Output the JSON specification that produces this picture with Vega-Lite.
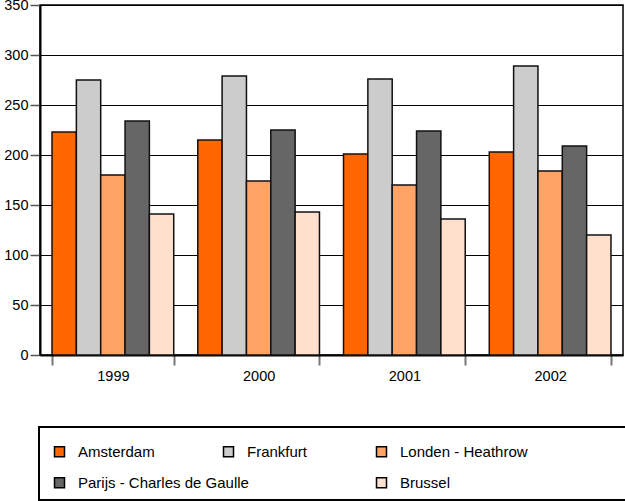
{
  "$schema": "https://vega.github.io/schema/vega-lite/v6.json",
  "width": 583,
  "height": 350,
  "autosize": {"type": "none"},
  "padding": {"left": 40, "top": 5, "right": 2, "bottom": 146},
  "background": "white",
  "config": {
    "font": "Liberation Sans",
    "view": {"stroke": "#000", "strokeWidth": 1.5},
    "axis": {"labelFont": "Liberation Sans", "labelFontSize": 14.5, "labelColor": "#000"},
    "legend": {
      "symbolType": "square",
      "symbolSize": 100,
      "symbolStrokeColor": "#000",
      "symbolStrokeWidth": 1.5,
      "labelFont": "Liberation Sans",
      "labelFontSize": 15,
      "labelColor": "#000",
      "labelOffset": 11,
      "labelLimit": 400,
      "gridAlign": "each",
      "direction": "horizontal"
    }
  },
  "data": {
    "values": [
      {"year": "1999", "airport": "Amsterdam", "value": 223},
      {"year": "1999", "airport": "Frankfurt", "value": 275},
      {"year": "1999", "airport": "Londen - Heathrow", "value": 180},
      {"year": "1999", "airport": "Parijs - Charles de Gaulle", "value": 234},
      {"year": "1999", "airport": "Brussel", "value": 141},
      {"year": "2000", "airport": "Amsterdam", "value": 215},
      {"year": "2000", "airport": "Frankfurt", "value": 279},
      {"year": "2000", "airport": "Londen - Heathrow", "value": 174},
      {"year": "2000", "airport": "Parijs - Charles de Gaulle", "value": 225},
      {"year": "2000", "airport": "Brussel", "value": 143},
      {"year": "2001", "airport": "Amsterdam", "value": 201},
      {"year": "2001", "airport": "Frankfurt", "value": 276},
      {"year": "2001", "airport": "Londen - Heathrow", "value": 170},
      {"year": "2001", "airport": "Parijs - Charles de Gaulle", "value": 224},
      {"year": "2001", "airport": "Brussel", "value": 136},
      {"year": "2002", "airport": "Amsterdam", "value": 203},
      {"year": "2002", "airport": "Frankfurt", "value": 289},
      {"year": "2002", "airport": "Londen - Heathrow", "value": 184},
      {"year": "2002", "airport": "Parijs - Charles de Gaulle", "value": 209},
      {"year": "2002", "airport": "Brussel", "value": 120}
    ]
  },
  "encoding": {
    "x": {
      "field": "year",
      "type": "nominal",
      "scale": {"paddingInner": 0.165, "paddingOuter": 0.0825},
      "axis": {
        "title": null,
        "labelAngle": 0,
        "domainColor": "#000",
        "domainWidth": 2,
        "tickBand": "extent",
        "tickColor": "#777",
        "tickWidth": 2,
        "tickSize": 10,
        "labelPadding": 4
      }
    },
    "xOffset": {
      "field": "airport",
      "type": "nominal",
      "scale": {
        "domain": ["Amsterdam", "Frankfurt", "Londen - Heathrow", "Parijs - Charles de Gaulle", "Brussel"],
        "paddingInner": 0,
        "paddingOuter": 0
      }
    },
    "y": {
      "field": "value",
      "type": "quantitative",
      "scale": {"domain": [0, 350], "nice": false},
      "axis": {
        "title": null,
        "values": [0, 50, 100, 150, 200, 250, 300, 350],
        "domainColor": "#000",
        "domainWidth": 2,
        "gridColor": "#000",
        "gridWidth": 1,
        "gridOpacity": 1,
        "tickColor": "#555",
        "tickWidth": 1.5,
        "tickSize": 10,
        "labelPadding": 2
      }
    }
  },
  "layer": [
    {
      "transform": [{"filter": {"field": "airport", "oneOf": ["Amsterdam", "Frankfurt", "Londen - Heathrow"]}}],
      "mark": {"type": "bar", "stroke": "#111", "strokeWidth": 1.5},
      "encoding": {
        "color": {
          "field": "airport",
          "type": "nominal",
          "scale": {
            "domain": ["Amsterdam", "Frankfurt", "Londen - Heathrow"],
            "range": ["#FF6600", "#CCCCCC", "#FFA366"]
          },
          "legend": {
            "orient": "none",
            "legendX": 12,
            "legendY": 439,
            "columns": 3,
            "columnPadding": 65,
            "padding": 0,
            "title": null
          }
        }
      }
    },
    {
      "transform": [{"filter": {"field": "airport", "oneOf": ["Parijs - Charles de Gaulle", "Brussel"]}}],
      "mark": {"type": "bar", "stroke": "#111", "strokeWidth": 1.5},
      "encoding": {
        "color": {
          "field": "airport",
          "type": "nominal",
          "scale": {
            "domain": ["Parijs - Charles de Gaulle", "Brussel", "_"],
            "range": ["#666666", "#FFE0CC", "#FFFFFF"]
          },
          "legend": {
            "orient": "none",
            "legendX": -1,
            "legendY": 422,
            "columns": 3,
            "columnPadding": 121,
            "padding": 9,
            "symbolOffset": 4,
            "strokeColor": "#000",
            "title": " ",
            "titleOrient": "top",
            "titleAnchor": "start",
            "titleAlign": "left",
            "titleBaseline": "top",
            "titleFont": "Liberation Sans",
            "titleFontWeight": "normal",
            "titleFontSize": 21,
            "titlePadding": 18,
            "labelExpr": "datum.value === '_' ? '' : datum.label",
            "encode": {
              "legend": {"update": {"strokeWidth": {"value": 2}}},
              "symbols": {"update": {"opacity": {"signal": "datum.value === '_' ? 0 : 1"}}},
              "labels": {"update": {"dx": {"signal": "datum.value === '_' ? 24 : 0"}}}
            }
          }
        }
      }
    }
  ],
  "resolve": {"scale": {"color": "independent"}}
}
